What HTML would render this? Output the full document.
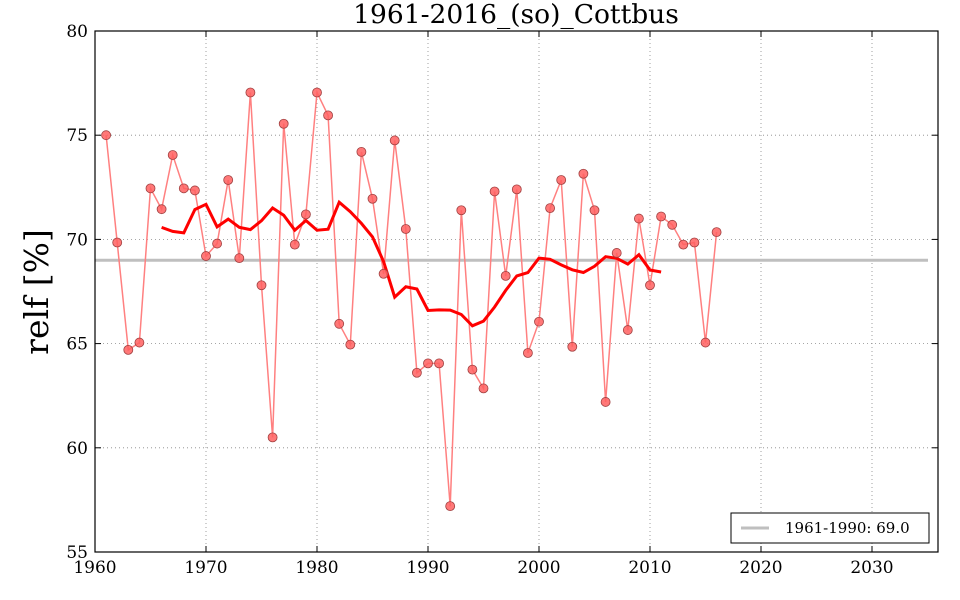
<!DOCTYPE html>
<html><head><meta charset="utf-8"><style>
html,body{margin:0;padding:0;background:#fff;width:960px;height:600px;overflow:hidden}
text{font-family:"DejaVu Serif","Liberation Serif",serif}
</style></head><body>
<svg id="s" width="960" height="600" xmlns="http://www.w3.org/2000/svg"></svg>
<script>
const data=[75.0,69.85,64.7,65.05,72.45,71.45,74.05,72.45,72.35,69.2,69.8,72.85,69.1,77.05,67.8,60.5,75.55,69.75,71.2,77.05,75.95,65.95,64.95,74.2,71.95,68.35,74.75,70.5,63.6,64.05,64.05,57.2,71.4,63.75,62.85,72.3,68.25,72.4,64.55,66.05,71.5,72.85,64.85,73.15,71.4,62.2,69.35,65.65,71.0,67.8,71.1,70.7,69.75,69.85,65.05,70.35];
const X=y=>95+(y-1960)*11.1, Y=v=>31+(80-v)*20.84;
let h='';
for(let yr=1970;yr<=2030;yr+=10){h+=`<line x1="${X(yr)}" y1="31" x2="${X(yr)}" y2="552" stroke="#888" stroke-width="0.8" stroke-dasharray="1,3"/>`;}
for(let v=60;v<=75;v+=5){h+=`<line x1="95" y1="${Y(v)}" x2="938" y2="${Y(v)}" stroke="#888" stroke-width="0.8" stroke-dasharray="1,3"/>`;}
h+=`<line x1="95" y1="${Y(69)}" x2="928" y2="${Y(69)}" stroke="#bfbfbf" stroke-width="3"/>`;
let p=data.map((v,i)=>X(1961+i).toFixed(1)+','+Y(v).toFixed(1)).join(' ');
h+=`<polyline points="${p}" fill="none" stroke="#ff8080" stroke-width="1.5"/>`;
let m=[];for(let i=5;i<data.length-5;i++){let s=0;for(let j=i-5;j<=i+5;j++)s+=data[j];m.push(X(1961+i).toFixed(1)+','+Y(s/11).toFixed(1));}
h+=`<polyline points="${m.join(' ')}" fill="none" stroke="#ff0000" stroke-width="3"/>`;
data.forEach((v,i)=>{h+=`<circle cx="${X(1961+i)}" cy="${Y(v)}" r="4.5" fill="#ff6060" fill-opacity="0.85" stroke="#a04040" stroke-width="0.8"/>`;});
h+=`<rect x="95" y="31" width="843" height="521" fill="none" stroke="#000" stroke-width="1.2"/>`;
for(let yr=1960;yr<=2030;yr+=10){let x=X(yr);h+=`<line x1="${x}" y1="552" x2="${x}" y2="546" stroke="#000"/><line x1="${x}" y1="31" x2="${x}" y2="37" stroke="#000"/><text x="${x}" y="573" font-size="17" text-anchor="middle">${yr}</text>`;}
for(let v=55;v<=80;v+=5){let y=Y(v);h+=`<line x1="95" y1="${y}" x2="101" y2="${y}" stroke="#000"/><line x1="938" y1="${y}" x2="932" y2="${y}" stroke="#000"/><text x="88" y="${y+6}" font-size="17" text-anchor="end">${v}</text>`;}
h+=`<text x="516" y="23" font-size="26.5" text-anchor="middle">1961-2016_(so)_Cottbus</text>`;
h+=`<text transform="translate(48,292) rotate(-90)" font-size="33" text-anchor="middle">relf [%]</text>`;
h+=`<rect x="731" y="513" width="198" height="30" fill="#fff" stroke="#000" stroke-width="1"/><line x1="741" y1="528" x2="769" y2="528" stroke="#bfbfbf" stroke-width="3"/><text x="785" y="533" font-size="15">1961-1990: 69.0</text>`;
document.getElementById('s').innerHTML=h;
</script>
</body></html>
